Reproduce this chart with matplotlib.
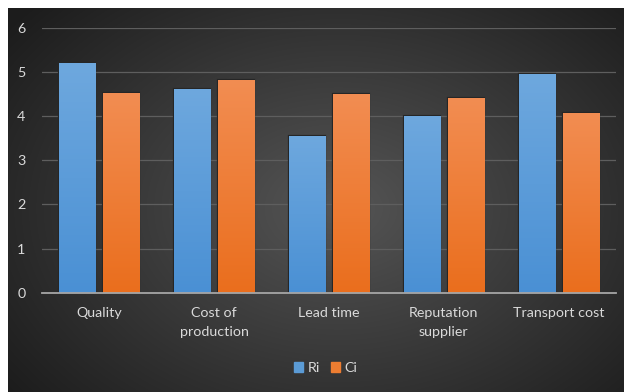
import numpy as np
import matplotlib
matplotlib.use("Agg")
import matplotlib.pyplot as plt
from matplotlib.colors import LinearSegmentedColormap
from matplotlib.patches import Patch

categories = ["Quality", "Cost of\nproduction", "Lead time", "Reputation\nsupplier", "Transport cost"]
ri = [5.2, 4.62, 3.56, 4.0, 4.96]
ci = [4.53, 4.82, 4.5, 4.41, 4.07]
yticks = [0, 1, 2, 3, 4, 5, 6]

plt.rcParams['font.family'] = ['Lato', 'DejaVu Sans']
W, H = 624, 392
fig = plt.figure(figsize=(W / 100, H / 100), dpi=100, facecolor="white")

# background radial gradient
bg = fig.add_axes([8 / W, 0, 616 / W, 384 / H])
bg.set_axis_off()
yy, xx = np.mgrid[0:384, 0:616]
cx, cy = 330, 200
r = np.sqrt(((xx - cx) / 420.0) ** 2 + ((yy - cy) / 300.0) ** 2)
r = np.clip(r, 0, 1)
c0 = np.array([0x55, 0x55, 0x55]) / 255
c1 = np.array([0x1c, 0x1c, 0x1c]) / 255
img = c0[None, None, :] * (1 - r[..., None]) + c1[None, None, :] * r[..., None]
bg.imshow(img, aspect="auto", extent=[0, 1, 0, 1])
bg.set_xlim(0, 1)
bg.set_ylim(0, 1)

ax = fig.add_axes([42 / W, (H - 292.7) / H, (616 - 42) / W, (292.7 - 28) / H])
ax.patch.set_alpha(0)
x = np.arange(len(categories))
bw = 0.314
off = (bw + 0.07) / 2
bars_r = ax.bar(x - off, ri, width=bw, color="#5B9BD5", edgecolor="#262626",
                linewidth=1.6, zorder=3)
bars_c = ax.bar(x + off, ci, width=bw, color="#ED7D31", edgecolor="#262626",
                linewidth=1.6, zorder=3)

blue_cm = LinearSegmentedColormap.from_list("b", ["#4a90d4", "#6ea8de"])
orange_cm = LinearSegmentedColormap.from_list("o", ["#ea6e1d", "#f28d52"])
grad = np.linspace(0, 1, 256).reshape(-1, 1)
for bars, cm in ((bars_r, blue_cm), (bars_c, orange_cm)):
    for b in bars:
        x0, y0 = b.get_x(), b.get_y()
        w, h = b.get_width(), b.get_height()
        im = ax.imshow(grad, cmap=cm, origin="lower", aspect="auto",
                       extent=[x0, x0 + w, y0, y0 + h], zorder=3.5)
        im.set_clip_path(b)

ax.set_xlim(-0.5, len(categories) - 0.5)
ax.set_ylim(0, 6)
ax.set_yticks(yticks)
ax.set_xticks(x)
ax.set_xticklabels(categories, linespacing=1.65)
ax.grid(axis="y", color="#5e5e5e", linewidth=0.9, zorder=0)
ax.set_axisbelow(True)
for s in ["top", "right", "left"]:
    ax.spines[s].set_visible(False)
ax.spines["bottom"].set_color("#a6a6a6")
ax.spines["bottom"].set_linewidth(1.3)
ax.spines["bottom"].set_zorder(4)
ax.tick_params(axis="both", length=0, colors="#d9d9d9", labelsize=10.3)
ax.tick_params(axis="y", pad=12)
ax.tick_params(axis="x", pad=10.5)

handles = [Patch(color="#5B9BD5", label="Ri"), Patch(color="#ED7D31", label="Ci")]
leg = fig.legend(handles=handles, loc="center", bbox_to_anchor=(0.522, 0.061), ncol=2,
                 frameon=False, fontsize=10.3, handlelength=0.65, handleheight=0.65,
                 handletextpad=0.3, columnspacing=0.8)
for t in leg.get_texts():
    t.set_color("#d9d9d9")

fig.savefig("out.png", dpi=100, facecolor="white")
